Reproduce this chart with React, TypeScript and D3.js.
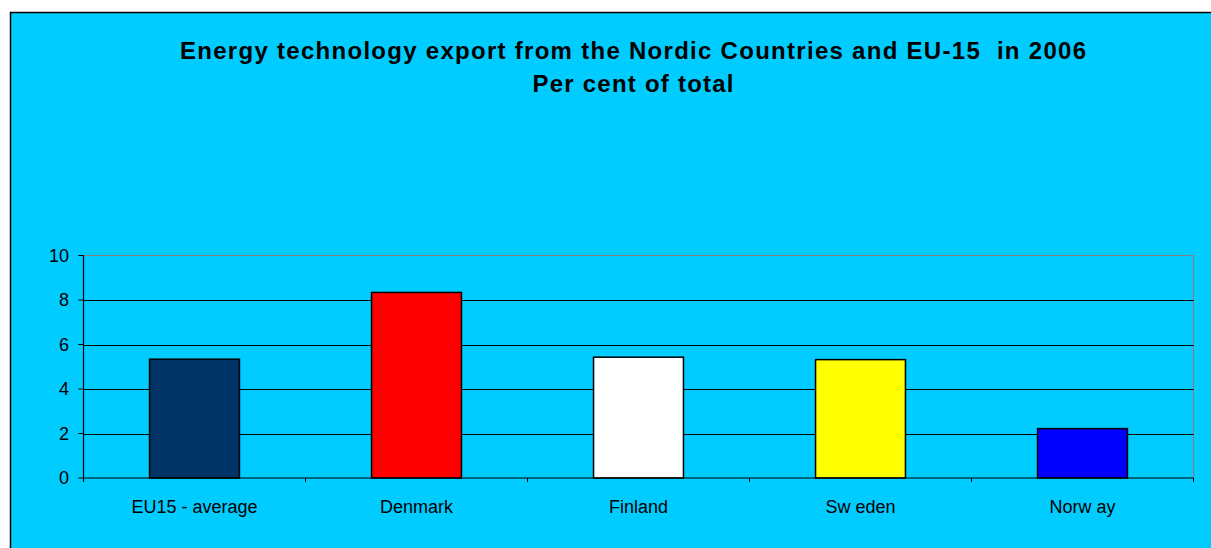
import React from "react";
import * as d3 from "d3";

const categories = ["EU15 - average", "Denmark", "Finland", "Sweden", "Norway"];
const categoryLabels = ["EU15 - average", "Denmark", "Finland", "Sw eden", "Norw ay"];
const values = [5.34, 8.34, 5.43, 5.32, 2.22];
const barColors = ["#003366", "#FF0000", "#FFFFFF", "#FFFF00", "#0000FF"];
const yTicks = [0, 2, 4, 6, 8, 10];
const titleLines = ["Energy technology export from the Nordic Countries and EU-15  in 2006", "Per cent of total"];
const titleWidths = [906, 201];

const W = 1211;
const H = 548;
const plot = { left: 83.5, right: 1193.5, top: 255.5, bottom: 478 };

export default function App() {
  const x = d3.scaleBand<string>().domain(categories).range([plot.left, plot.right]).padding(0);
  const y = d3.scaleLinear().domain([0, 10]).range([plot.bottom, plot.top]);
  const bw = x.bandwidth() * 0.405;
  const font = "'Liberation Sans', Arial, sans-serif";
  const bounds = categories.map((c) => x(c) as number).concat([plot.right]);

  return (
    <div style={{ position: "absolute", left: 0, top: 0, width: W, height: H, background: "#fff" }}>
      <svg width={W} height={H} style={{ display: "block" }}>
        <rect x={10.5} y={12.5} width={W + 10} height={H + 10} fill="#00CCFF" stroke="#000" strokeWidth={1.5} />
        {titleLines.map((t, i) => (
          <text
            key={i}
            x={633}
            y={59 + i * 33}
            textAnchor="middle"
            fontFamily={font}
            fontWeight="bold"
            fontSize={24}
            fill="#000"
            textLength={titleWidths[i]}
            lengthAdjust="spacing"
            style={{ whiteSpace: "pre" }}
          >
            {t}
          </text>
        ))}
        {/* plot border top & right (gray) */}
        <line x1={plot.left} x2={plot.right} y1={plot.top} y2={plot.top} stroke="#808080" strokeWidth={1.2} />
        <line x1={plot.right} x2={plot.right} y1={plot.top} y2={plot.bottom} stroke="#808080" strokeWidth={1.2} />
        {/* gridlines */}
        {yTicks.filter((t) => t > 0 && t < 10).map((t) => (
          <line key={t} x1={plot.left} x2={plot.right} y1={Math.round(y(t)) + 0.5} y2={Math.round(y(t)) + 0.5} stroke="#000" strokeWidth={1} />
        ))}
        {/* bars */}
        {categories.map((c, i) => {
          const cx = (x(c) as number) + x.bandwidth() / 2;
          return (
            <rect
              key={c}
              x={cx - bw / 2}
              y={y(values[i])}
              width={bw}
              height={y(0) - y(values[i])}
              fill={barColors[i]}
              stroke="#000"
              strokeWidth={1.5}
            />
          );
        })}
        {/* axes */}
        <line x1={plot.left} x2={plot.left} y1={plot.top} y2={plot.bottom + 4} stroke="#000" strokeWidth={1.2} />
        <line x1={plot.left} x2={plot.right} y1={plot.bottom} y2={plot.bottom} stroke="#000" strokeWidth={1.2} />
        {yTicks.map((t) => (
          <g key={t}>
            <line x1={plot.left - 5} x2={plot.left} y1={y(t)} y2={y(t)} stroke="#000" strokeWidth={1} />
            <text x={69} y={y(t)} dy="0.36em" textAnchor="end" fontFamily={font} fontSize={18} fill="#000">
              {t}
            </text>
          </g>
        ))}
        {bounds.map((b, i) => (
          <line key={i} x1={b} x2={b} y1={plot.bottom} y2={plot.bottom + 4} stroke="#000" strokeWidth={1} />
        ))}
        {categories.map((c, i) => (
          <text
            key={c}
            x={(x(c) as number) + x.bandwidth() / 2}
            y={513}
            textAnchor="middle"
            fontFamily={font}
            fontSize={18}
            fill="#000"
            style={{ whiteSpace: "pre" }}
          >
            {categoryLabels[i]}
          </text>
        ))}
      </svg>
    </div>
  );
}
